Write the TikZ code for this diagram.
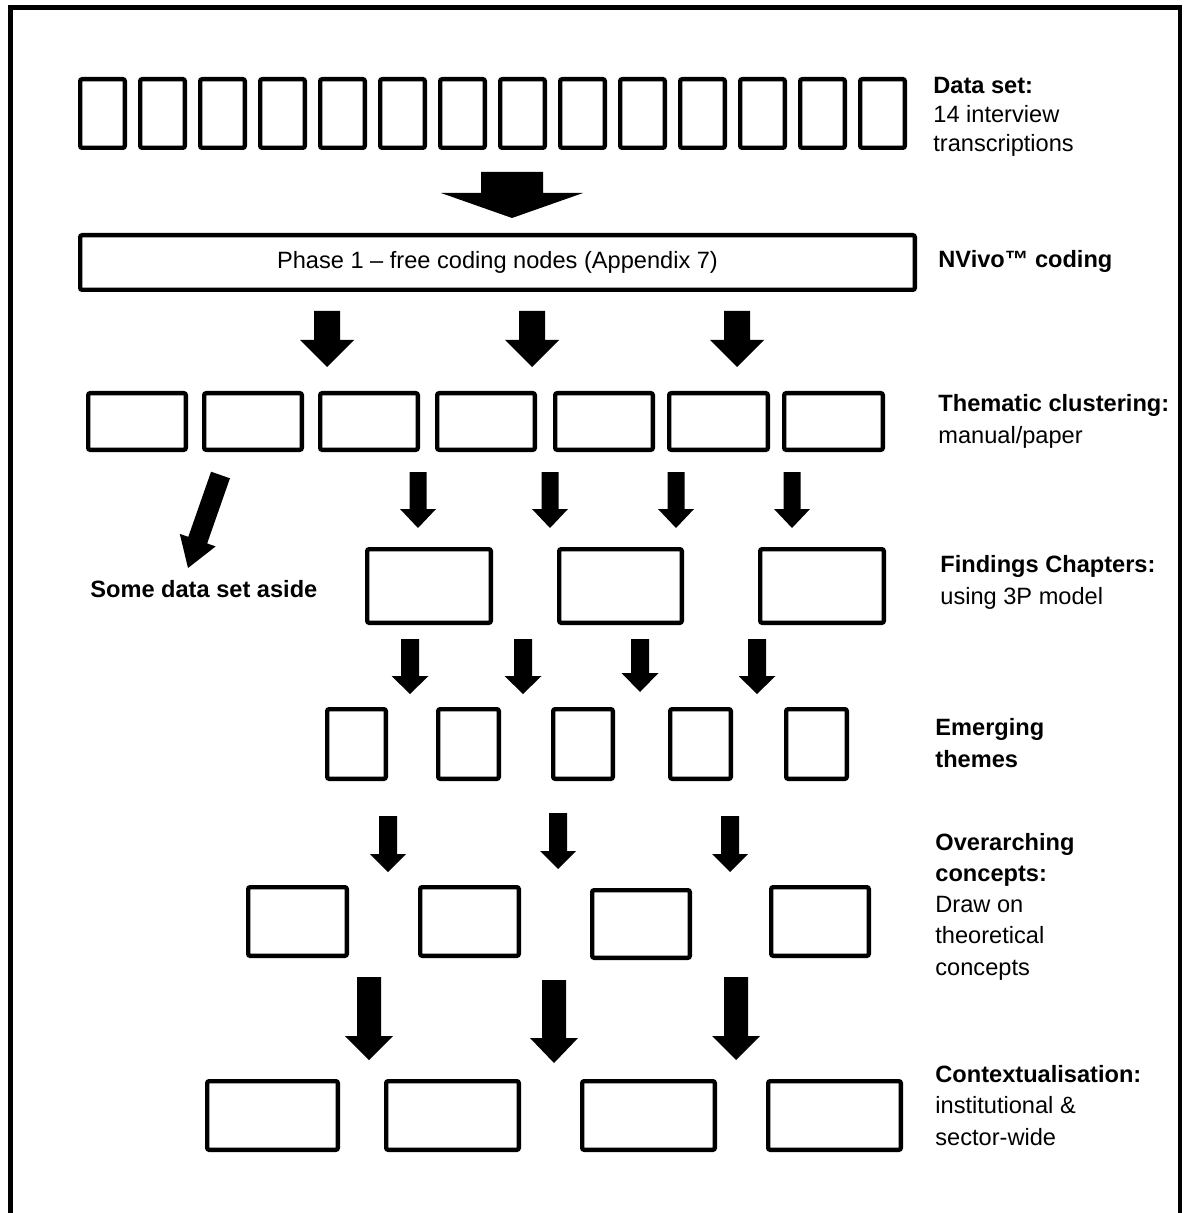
\documentclass[tikz,border=0pt]{standalone}
\usepackage{fontspec}
\setmainfont{Liberation Sans}
\usetikzlibrary{fit}
% outlined box between outer corners (x1,y1) and (x2,y2)
\newcommand\PBox[5]{\node[box, fit={(#2+2.2,#3+2.2) (#4-2.2,#5-2.2)}] (#1) {};}
% solid block arrow pointing down: centre x, top, head base, tip, shaft half width, head half width
\newcommand\DArrow[6]{\fill (#1-#5,#2) -- (#1+#5,#2) -- (#1+#5,#3) -- (#1+#6,#3) -- (#1,#4) -- (#1-#6,#3) -- (#1-#5,#3) -- cycle;}
\begin{document}
\begin{tikzpicture}[x=0.5pt,y=-0.5pt,
  box/.style={draw, line width=2.2pt, rounded corners=1pt, inner sep=0pt},
  % multi-line labels are placed by the baseline of their last line
  lbl/.style={anchor=base west, align=left, inner sep=0pt,
    font=\fontsize{11.8pt}{15.6pt}\selectfont}]
\useasboundingbox (0,0) rectangle (1192,1213);
\fill[white] (0,0) rectangle (1192,1213);

% outer frame, open at the bottom
\draw[line width=2.35pt, line join=miter] (10.3,1213) -- (10.3,7.5) -- (1180,7.5) -- (1180,1213);

% data set: 14 transcriptions
\foreach \k in {0,...,13}{
  \PBox{d\k}{78+60*\k}{77}{127+60*\k}{150}
}
\node[lbl, font=\fontsize{11.8pt}{14.7pt}\selectfont] (lset) at (933,152)
  {\textbf{Data set:}\\14 interview\\transcriptions};

\DArrow{512}{172}{193}{218}{31}{71}

% NVivo coding
\PBox{phase}{78}{233}{917}{292}
\node[inner sep=0pt, anchor=base, font=\fontsize{11.8pt}{14pt}\selectfont] (ptext) at (497.5,269)
  {Phase 1 – free coding nodes (Appendix 7)};
\node[lbl] (lnv) at (938,268) {\textbf{NVivo™ coding}};

\DArrow{327}{311}{340}{367}{13}{27}
\DArrow{532}{311}{340}{367}{13}{27}
\DArrow{737}{311}{340}{367}{13}{27}

% thematic clustering
\PBox{t1}{86}{391}{188}{452}
\PBox{t2}{202}{391}{304}{452}
\PBox{t3}{318}{391}{420}{452}
\PBox{t4}{435}{391}{537}{452}
\PBox{t5}{553}{391}{655}{452}
\PBox{t6}{667}{391}{770}{452}
\PBox{t7}{782}{391}{885}{452}
\node[lbl] (lthem) at (938,443) {\textbf{Thematic clustering:}\\manual/paper};

% data set aside
\fill (211.06,471.7) -- (229.94,478.3) -- (207.17,543.44) -- (215.67,546.41)
  -- (188,568) -- (179.79,533.87) -- (188.29,536.84) -- cycle;
\node[lbl] (aside) at (90,597) {\textbf{Some data set aside}};

\DArrow{418}{472}{509}{528}{8.5}{18}
\DArrow{550}{472}{509}{528}{8.5}{18}
\DArrow{676}{472}{509}{528}{8.5}{18}
\DArrow{792}{472}{509}{528}{8.5}{18}

% findings chapters
\PBox{f1}{365}{547}{493}{625}
\PBox{f2}{557}{547}{684}{625}
\PBox{f3}{758}{547}{886}{625}
\node[lbl] (lfind) at (940,604) {\textbf{Findings Chapters:}\\using 3P model};

\DArrow{410}{639}{676}{694}{9}{18.5}
\DArrow{523}{639}{676}{694}{9}{18.5}
\DArrow{640}{639}{673}{692}{9}{18.5}
\DArrow{757}{639}{676}{694}{9}{18.5}

% emerging themes
\PBox{e1}{325}{707}{388}{781}
\PBox{e2}{436}{707}{501}{781}
\PBox{e3}{551}{707}{615}{781}
\PBox{e4}{668}{707}{733}{781}
\PBox{e5}{784}{707}{849}{781}
\node[lbl] (lemer) at (935,767) {\textbf{Emerging}\\\textbf{themes}};

\DArrow{388}{816}{854}{872}{9}{18}
\DArrow{558}{813}{851}{869}{9}{18}
\DArrow{730}{816}{854}{872}{9}{18}

% overarching concepts
\PBox{o1}{246}{885}{349}{958}
\PBox{o2}{418}{885}{521}{958}
\PBox{o3}{590}{888}{692}{960}
\PBox{o4}{769}{885}{871}{958}
\node[lbl] (lover) at (935,975)
  {\textbf{Overarching}\\\textbf{concepts:}\\Draw on\\theoretical\\concepts};

\DArrow{369}{977}{1036}{1060}{12}{24}
\DArrow{554}{980}{1038}{1063}{12}{24}
\DArrow{736}{977}{1036}{1060}{12}{24}

% contextualisation
\PBox{c1}{205}{1079}{340}{1152}
\PBox{c2}{384}{1079}{521}{1152}
\PBox{c3}{580}{1079}{717}{1152}
\PBox{c4}{766}{1079}{903}{1152}
\node[lbl] (lcont) at (935,1145)
  {\textbf{Contextualisation:}\\institutional \&\\sector-wide};
\end{tikzpicture}
\end{document}
